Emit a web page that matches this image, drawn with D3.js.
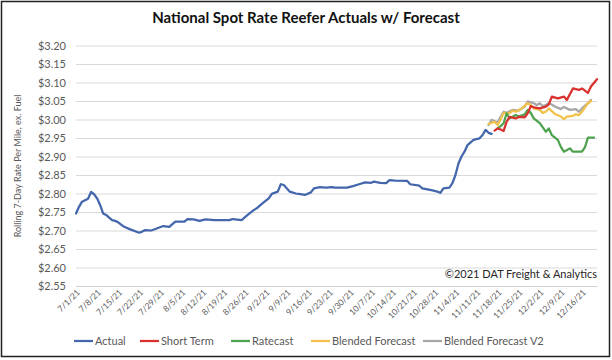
<!DOCTYPE html>
<html><head><meta charset="utf-8">
<script src="https://cdn.jsdelivr.net/npm/d3@7"></script>
<style>
body{margin:0;background:#fff;}
svg{display:block;font-family:Lato,"Open Sans",sans-serif;}
</style></head>
<body><svg id="chart" width="612" height="360"></svg>
<script>
const title = "National Spot Rate Reefer Actuals w/ Forecast";
const yAxisTitle = "Rolling 7-Day Rate Per Mile, ex. Fuel";
const credit = "©2021 DAT Freight & Analytics";
const yTicks = [2.55,2.60,2.65,2.70,2.75,2.80,2.85,2.90,2.95,3.00,3.05,3.10,3.15,3.20];
const xTickLabels = ["7/1/21","7/8/21","7/15/21","7/22/21","7/29/21","8/5/21","8/12/21","8/19/21","8/26/21","9/2/21","9/9/21","9/16/21","9/23/21","9/30/21","10/7/21","10/14/21","10/21/21","10/28/21","11/4/21","11/11/21","11/18/21","11/25/21","12/2/21","12/9/21","12/16/21"];
const seriesNames = ["Actual","Short Term","Ratecast","Blended Forecast","Blended Forecast V2"];

const actualDates = ["7/1/21","7/2/21","7/3/21","7/4/21","7/5/21","7/6/21","7/7/21","7/8/21","7/9/21","7/10/21","7/11/21","7/12/21","7/13/21","7/14/21","7/15/21","7/17/21","7/19/21","7/22/21","7/23/21","7/24/21","7/26/21","7/28/21","7/30/21","8/1/21","8/2/21","8/3/21","8/6/21","8/7/21","8/9/21","8/11/21","8/13/21","8/16/21","8/21/21","8/22/21","8/25/21","8/27/21","8/29/21","8/30/21","9/1/21","9/3/21","9/4/21","9/6/21","9/7/21","9/8/21","9/10/21","9/12/21","9/13/21","9/15/21","9/17/21","9/18/21","9/20/21","9/22/21","9/24/21","9/25/21","9/27/21","9/29/21","10/1/21","10/3/21","10/5/21","10/7/21","10/8/21","10/10/21","10/12/21","10/13/21","10/15/21","10/19/21","10/20/21","10/23/21","10/24/21","10/27/21","10/29/21","10/30/21","10/31/21","11/2/21","11/3/21","11/4/21","11/5/21","11/6/21","11/7/21","11/8/21","11/10/21","11/12/21","11/13/21","11/14/21","11/15/21","11/16/21"];
const actualValues = [2.746,2.764,2.778,2.782,2.786,2.804,2.798,2.787,2.769,2.746,2.742,2.735,2.728,2.726,2.722,2.710,2.703,2.694,2.697,2.701,2.700,2.706,2.712,2.710,2.717,2.724,2.724,2.731,2.730,2.726,2.730,2.728,2.728,2.731,2.728,2.742,2.755,2.760,2.774,2.787,2.799,2.805,2.825,2.823,2.805,2.800,2.799,2.796,2.803,2.814,2.817,2.816,2.817,2.816,2.816,2.816,2.820,2.825,2.830,2.829,2.832,2.829,2.828,2.836,2.835,2.834,2.825,2.821,2.814,2.809,2.805,2.802,2.814,2.816,2.828,2.850,2.881,2.900,2.913,2.931,2.945,2.949,2.958,2.972,2.964,2.961];

const shortTermDates = ["11/17/21","11/18/21","11/19/21","11/20/21","11/21/21","11/22/21","11/24/21","11/25/21","11/27/21","11/28/21","11/29/21","11/30/21","12/2/21","12/4/21","12/5/21","12/6/21","12/8/21","12/10/21","12/11/21","12/13/21","12/15/21","12/16/21","12/18/21","12/19/21","12/21/21"];
const shortTermValues = [2.970,2.976,2.973,2.969,2.994,3.007,3.003,3.007,3.006,3.017,3.036,3.033,3.030,3.035,3.041,3.062,3.057,3.062,3.053,3.084,3.080,3.084,3.072,3.089,3.109];

const ratecastDates = ["11/18/21","11/19/21","11/20/21","11/21/21","11/22/21","11/24/21","11/25/21","11/27/21","11/28/21","11/29/21","11/30/21","12/2/21","12/4/21","12/5/21","12/6/21","12/8/21","12/9/21","12/10/21","12/12/21","12/13/21","12/15/21","12/16/21","12/17/21","12/18/21","12/20/21"];
const ratecastValues = [2.976,2.982,2.990,3.017,3.003,3.012,3.008,3.014,3.026,3.018,3.003,2.990,2.967,2.976,2.958,2.945,2.926,2.913,2.922,2.913,2.913,2.913,2.925,2.951,2.951];

const blendedDates = ["11/15/21","11/17/21","11/18/21","11/19/21","11/20/21","11/22/21","11/23/21","11/24/21","11/26/21","11/28/21","11/29/21","11/30/21","12/2/21","12/3/21","12/4/21","12/5/21","12/7/21","12/9/21","12/10/21","12/11/21","12/13/21","12/14/21","12/15/21","12/16/21","12/18/21","12/19/21"];
const blendedValues = [2.988,2.994,2.985,3.000,3.018,3.017,3.024,3.021,3.030,3.044,3.039,3.030,3.026,3.018,3.021,3.030,3.015,3.008,3.001,3.008,3.010,3.014,3.012,3.021,3.044,3.050];

const blendedV2Dates = ["11/15/21","11/16/21","11/18/21","11/19/21","11/20/21","11/21/21","11/23/21","11/25/21","11/27/21","11/28/21","11/30/21","12/1/21","12/2/21","12/3/21","12/4/21","12/5/21","12/7/21","12/9/21","12/10/21","12/12/21","12/14/21","12/15/21","12/16/21","12/18/21","12/19/21"];
const blendedV2Values = [2.985,2.999,2.992,3.007,3.021,3.018,3.026,3.024,3.035,3.049,3.044,3.039,3.044,3.036,3.039,3.045,3.035,3.028,3.034,3.026,3.028,3.021,3.030,3.044,3.053];

const colors = ["#4466AC","#D8312F","#4EA24E","#F2C14B","#A6A6A6"];

const parse = d3.timeParse("%m/%d/%y");
const svg = d3.select("#chart");

// frame
svg.append("rect").attr("x",1.5).attr("y",1.5).attr("width",608).attr("height",355)
  .attr("fill","#fff").attr("stroke","#222").attr("stroke-width",1.5);

const x = d3.scaleTime().domain([parse("7/1/21"), parse("12/21/21")]).range([76, 597]);
const y = d3.scaleLinear().domain([2.55, 3.20]).range([286, 45.5]);

// title
svg.append("text").attr("x",306).attr("y",23).attr("text-anchor","middle")
  .attr("font-size",15).attr("font-weight","bold").attr("fill","#111").text(title);

// gridlines
const yAxis = d3.axisLeft(y).tickValues(yTicks).tickFormat(d3.format("$.2f"))
  .tickSize(-(597-76)).tickPadding(10);
const gy = svg.append("g").attr("transform","translate(76,0)").call(yAxis);
gy.select(".domain").remove();
gy.selectAll(".tick line").attr("stroke","#d9d9d9").attr("stroke-width",1);
gy.selectAll(".tick text").attr("fill","#595959").attr("font-size",11).attr("font-family","Lato,sans-serif");

// x axis
const xTicks = xTickLabels.map(parse);
const xAxis = d3.axisBottom(x).tickValues(xTicks).tickFormat(d3.timeFormat("%-m/%-d/%y")).tickSize(0).tickPadding(0);
const gx = svg.append("g").attr("transform","translate(0,286)").call(xAxis);
gx.select(".domain").attr("stroke","#d0d0d0");
gx.selectAll(".tick text").attr("fill","#595959").attr("font-size",8.5).attr("font-family","Lato,sans-serif")
  .attr("text-anchor","end").attr("dy",0)
  .attr("transform","translate(4,7) rotate(-45)");

// y axis title
svg.append("text").attr("transform","translate(21,166) rotate(-90)")
  .attr("text-anchor","middle").attr("font-size",9).attr("fill","#595959").text(yAxisTitle);

// credit
svg.append("text").attr("x",597).attr("y",278).attr("text-anchor","end")
  .attr("font-size",11).attr("fill","#262626").text(credit);

// series
const series = [
  [actualDates, actualValues],
  [shortTermDates, shortTermValues],
  [ratecastDates, ratecastValues],
  [blendedDates, blendedValues],
  [blendedV2Dates, blendedV2Values]
];
const line = d3.line().x(d => x(d[0])).y(d => y(d[1]));
const drawOrder = [0,4,3,2,1];
drawOrder.forEach(i => {
  const [ds, vs] = series[i];
  const pts = ds.map((d,j) => [parse(d), vs[j]]);
  svg.append("path").datum(pts).attr("d", line).attr("fill","none")
    .attr("stroke", colors[i]).attr("stroke-width",2.25).attr("stroke-linejoin","round").attr("stroke-linecap","round");
});

// legend
const legendX = [74, 140, 231, 311, 423];
const lg = svg.append("g");
seriesNames.forEach((n,i) => {
  lg.append("line").attr("x1",legendX[i]).attr("x2",legendX[i]+19).attr("y1",341).attr("y2",341)
    .attr("stroke",colors[i]).attr("stroke-width",2.25);
  lg.append("text").attr("x",legendX[i]+21).attr("y",345).attr("font-size",11).attr("fill","#595959").text(n);
});
</script></body></html>
